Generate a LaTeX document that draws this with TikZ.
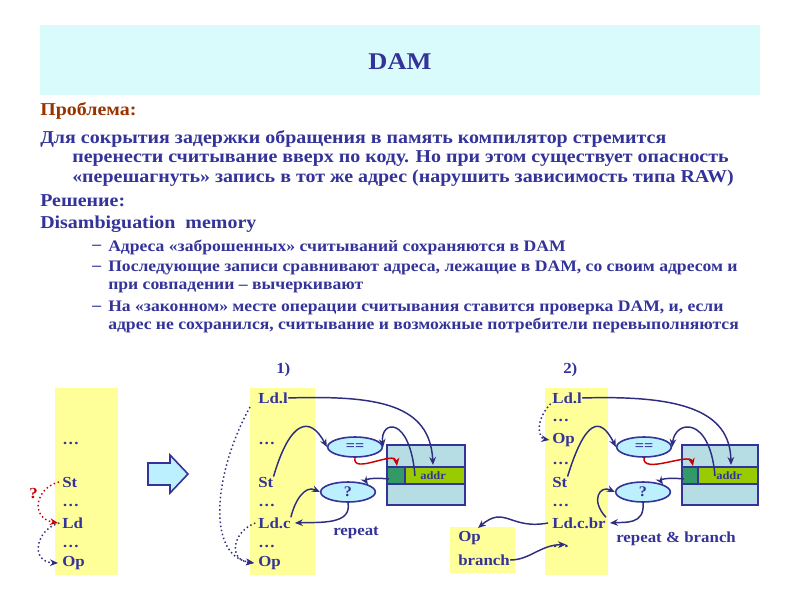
\documentclass[tikz,border=0pt]{standalone}
\usepackage{fontspec}
\setmainfont{Liberation Serif}[FakeStretch=1.1]
\usetikzlibrary{arrows.meta,shapes.geometric}
\definecolor{navy}{HTML}{333399}
\definecolor{ink}{HTML}{2E2E80}
\definecolor{rust}{HTML}{993300}
\definecolor{band}{HTML}{D9FBFB}
\definecolor{yel}{HTML}{FFFF99}
\definecolor{dam}{HTML}{B6DDE4}
\definecolor{dgreen}{HTML}{339966}
\definecolor{lime}{HTML}{99CC00}
\definecolor{ell}{HTML}{BDF0FF}
\tikzset{
 txt/.style={anchor=west,inner sep=0,text=navy,font=\bfseries\fontsize{13.6}{15}\selectfont},
 sub/.style={anchor=west,inner sep=0,text=navy,font=\bfseries\fontsize{12}{13}\selectfont},
 it/.style={anchor=west,inner sep=0,text=navy,font=\bfseries\fontsize{11.5}{13}\selectfont},
 colm/.style={fill=yel,draw=none},
 oval/.style={ellipse,draw=navy,line width=1.2pt,fill=ell,minimum width=41pt,minimum height=15pt,inner sep=0,text=navy,font=\bfseries\fontsize{11}{12}\selectfont},
 arr/.style={draw=ink,line width=1.1pt,-{Stealth[length=6pt,width=5pt]}},
 darr/.style={draw=ink,line width=1.1pt,dotted,-{Stealth[length=6pt,width=5pt]}},
 rarr/.style={draw=red!80!black,line width=1.1pt,-{Stealth[length=6pt,width=5pt]}},
}
\begin{document}
\begin{tikzpicture}[x=0.75pt,y=-0.75pt]
\useasboundingbox (0,0) rectangle (800,600);
\fill[white] (0,0) rectangle (800,600);
\fill[band] (40,25) rectangle (760,95);
\node[text=navy,font=\bfseries\fontsize{18}{20}\selectfont] (title) at (400,62) {DAM};
\node[txt,text=rust] (p) at (40,111) {Проблема:};
\node[txt] (l1) at (40,139) {Для сокрытия задержки обращения в память компилятор стремится};
\node[txt] (l2) at (72,159) {перенести считывание вверх по коду. Но при этом существует опасность};
\node[txt] (l3) at (72,178) {«перешагнуть» запись в тот же адрес (нарушить зависимость типа RAW)};
\node[txt] (r) at (40,201) {Решение:};
\node[txt] (dm) at (40,224) {Disambiguation\ \ memory};
\foreach \y in {247,268,308}
  \node[sub] at (92,\y) {–};
\node[sub] (b1) at (108,247) {Адреса «заброшенных» считываний сохраняются в DAM};
\node[sub] (b2) at (108,268) {Последующие записи сравнивают адреса, лежащие в DAM, со своим адресом и};
\node[sub] (b2b) at (108,287) {при совпадении – вычеркивают};
\node[sub] (b3) at (108,308) {На «законном» месте операции считывания ставится проверка DAM, и, если};
\node[sub] (b3b) at (108,325) {адрес не сохранился, считывание и возможные потребители перевыполняются};
% left column
\fill[colm] (55,388) rectangle (118,575);
\node[it] (a1) at (62,443) {…};
\node[it] (ast) at (62,482) {St};
\node[it] (a2) at (62,505) {…};
\node[it] (ald) at (62,523) {Ld};
\node[it] (a3) at (62,546) {…};
\node[it] (aop) at (62,563) {Op};
\node[it,text=red!80!black] (q) at (29,494) {?};
\draw[rarr,dotted] (ast.west) ++(-3,0) .. controls (35,488) and (30,518) .. ([xshift=-3pt]ald.west);
\draw[darr] ([xshift=-2pt]ald.west) .. controls (35,530) and (30,562) .. ([xshift=-3pt]aop.west);
% big arrow
\draw[draw=navy,line width=1.2pt,fill=ell] (148,463)--(170,463)--(170,455)--(188,474)--(170,493)--(170,485)--(148,485)--cycle;
% column 1
\node[it] (n1) at (276,370) {1)};
\fill[colm] (250,388) rectangle (315,575);
\node[it] (c1l) at (258,398) {Ld.l};
\node[it] (c1a) at (258,443) {…};
\node[it] (c1st) at (258,482) {St};
\node[it] (c1b) at (258,505) {…};
\node[it] (c1c) at (258,523) {Ld.c};
\node[it] (c1d) at (258,546) {…};
\node[it] (c1op) at (258,563) {Op};
\node[oval] (eq1) at (355,447) {==};
\node[oval] (q1) at (348,492) {?};
\draw[navy,line width=1.2pt,fill=dam] (387,445) rectangle (465,505);
\draw[navy,line width=1.2pt,fill=lime] (387,467) rectangle (465,484);
\draw[navy,line width=1.2pt,fill=dgreen] (387,467) rectangle (405,484);
\node[it,font=\bfseries\fontsize{8.5}{9}\selectfont] (ad1) at (420,476) {addr};
\node[it] (rep) at (333,533) {repeat};
\draw[arr] (c1l.east) .. controls (380,395) and (430,405) .. (433,465);
\draw[arr] (c1st.north east) .. controls (290,420) and (310,415) .. (eq1.west);
\draw[arr] (415,476) .. controls (410,415) and (380,420) .. (eq1.east);
\draw[rarr] (eq1.south) .. controls (352,475) and (395,450) .. (397,466);
\draw[arr] (389,479) .. controls (370,477) and (365,480) .. (q1.north east);
\draw[arr] (c1c.north east) .. controls (295,500) and (305,485) .. (q1.west);
\draw[arr] (q1.south) .. controls (352,525) and (320,522) .. ([xshift=3pt]c1c.east);
\draw[darr] (250,407) .. controls (215,470) and (205,555) .. ([xshift=-3pt]c1op.west);
\draw[darr] ([xshift=-2pt]c1c.west) .. controls (232,532) and (228,560) .. ([xshift=-3pt]c1op.west);
% column 2
\node[it] (n2) at (563,370) {2)};
\fill[colm] (545,388) rectangle (608,575);
\fill[colm] (450,527) rectangle (515,573);
\node[it] (c2l) at (552,398) {Ld.l};
\node[it] (c2a) at (552,420) {…};
\node[it] (c2op) at (552,440) {Op};
\node[it] (c2b) at (552,463) {…};
\node[it] (c2st) at (552,482) {St};
\node[it] (c2c) at (552,505) {…};
\node[it] (c2br) at (552,523) {Ld.c.br};
\node[it] (c2d) at (552,546) {…};
\node[it] (bop) at (458,538) {Op};
\node[it] (bbr) at (458,560) {branch};
\node[oval] (eq2) at (644,447) {==};
\node[oval] (q2) at (643,492) {?};
\draw[navy,line width=1.2pt,fill=dam] (682,445) rectangle (758,505);
\draw[navy,line width=1.2pt,fill=lime] (682,467) rectangle (758,484);
\draw[navy,line width=1.2pt,fill=dgreen] (682,467) rectangle (698,484);
\node[it,font=\bfseries\fontsize{8.5}{9}\selectfont] (ad2) at (716,476) {addr};
\node[it] (rb) at (616,539) {repeat \& branch};
\draw[arr] (c2l.east) .. controls (680,395) and (730,410) .. (731,465);
\draw[arr] (c2st.north east) .. controls (585,420) and (600,415) .. (eq2.west);
\draw[arr] (715,476) .. controls (710,415) and (675,420) .. (eq2.east);
\draw[rarr] (eq2.south) .. controls (642,475) and (690,452) .. (693,466);
\draw[arr] (684,479) .. controls (665,477) and (660,480) .. (q2.north east);
\draw[arr] (c2br.north east) .. controls (590,500) and (600,485) .. (q2.west);
\draw[arr] (q2.south) .. controls (645,525) and (625,522) .. ([xshift=3pt]c2br.east);
\draw[darr] ([xshift=-1pt]c2l.south west) .. controls (535,420) and (538,438) .. ([xshift=-2pt]c2op.west);
\draw[arr] ([xshift=-3pt]c2br.west) .. controls (510,530) and (505,505) .. (478,528);
\draw[arr] (bbr.east) .. controls (530,560) and (540,545) .. ([xshift=4pt]c2d.north);
\end{tikzpicture}
\end{document}
